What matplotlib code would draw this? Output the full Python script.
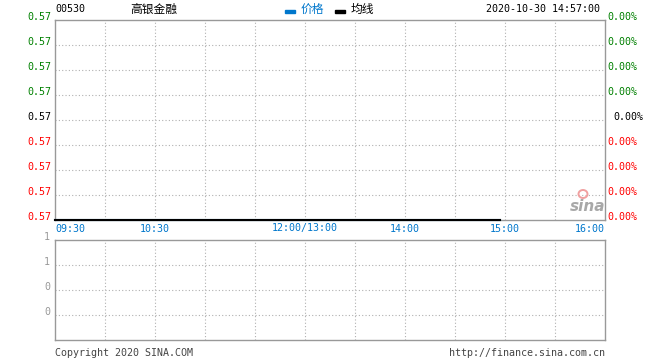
import matplotlib
matplotlib.use("Agg")
import matplotlib.pyplot as plt
from matplotlib.patches import Ellipse

# ---- data ----
code = "00530"
name = "高银金融"
timestamp = "2020-10-30 14:57:00"
legend_labels = ["价格", "均线"]
time_ticks = [0, 60, 150, 210, 270, 330]          # trading minutes from 09:30
time_labels = ["09:30", "10:30", "12:00/13:00", "14:00", "15:00", "16:00"]
price_minutes = [0, 267]
price_values = [0.57, 0.57]
avg_values = [0.57, 0.57]
price_labels = ["0.57"] * 9
pct_labels = ["0.00%"] * 9
vol_labels = ["1", "1", "0", "0"]

W, H = 660, 360
fig = plt.figure(figsize=(W / 100, H / 100), dpi=100)
fig.patch.set_facecolor("white")
MONO = "DejaVu Sans Mono"
FS = 7.2
GREEN, RED, BLUE, GRAY = "#008000", "#ff0000", "#0077cc", "#999999"
CJK = ["Noto Sans CJK SC", "DejaVu Sans"]

def px(x, y):
    return x / W, 1 - y / H

PXX = 330 / 550  # data units per pixel horizontally

# main panel
ax = fig.add_axes([55 / W, (H - 220) / H, 550 / W, 200 / H])
lo = price_values[0]
step = 0.001
ax.set_xlim(0, 330)
ax.set_ylim(lo, lo + 8 * step)
for s in ax.spines.values():
    s.set_color(GRAY)
    s.set_linewidth(1)
ax.set_xticks([]); ax.set_yticks([])
for x in range(30, 330, 30):
    ax.axvline(x, color="#b0b0b0", lw=0.8, ls=(0, (1, 2)))
for i in range(1, 8):
    ax.axhline(lo + i * step, color="#b0b0b0", lw=0.8, ls=(0, (1, 2)))
ax.plot(price_minutes, price_values, color=BLUE, lw=1.5, clip_on=False, zorder=3)
ax.plot(price_minutes, avg_values, color="black", lw=1.5, clip_on=False, zorder=4)

for i, (lab, plab) in enumerate(zip(price_labels, pct_labels)):
    yv = lo + (8 - i) * step
    col = GREEN if i < 4 else ("black" if i == 4 else RED)
    ax.text(-4 * PXX, yv, lab, color=col, fontsize=FS, family=MONO, ha="right",
            va="baseline", clip_on=False)
    xr = 330 + (2 if i != 4 else 8) * PXX
    ax.text(xr, yv, plab, color=col, fontsize=FS, family=MONO, ha="left", va="baseline",
            clip_on=False)

for t, lab in zip(time_ticks, time_labels):
    ha = "left" if t == 0 else ("right" if t == 330 else "center")
    ax.text(t, lo - 3.5 * step / 25, lab, color=BLUE, fontsize=FS, family=MONO,
            ha=ha, va="top", clip_on=False)

# sina watermark
fig.text(*px(588, 211), "sina", color="#a8a8a8", fontsize=11, fontweight="bold",
         style="italic", ha="center", va="baseline", family="DejaVu Sans")
fig.patches.append(Ellipse(px(583, 194), 9 / W, 8 / H, transform=fig.transFigure,
                           facecolor="none", edgecolor="#f0a0a0", lw=1.4))

# volume panel
av = fig.add_axes([55 / W, (H - 340) / H, 550 / W, 100 / H])
av.set_xlim(0, 330)
av.set_ylim(0, 4)
for s in av.spines.values():
    s.set_color(GRAY)
    s.set_linewidth(1)
av.set_xticks([]); av.set_yticks([])
for x in range(30, 330, 30):
    av.axvline(x, color="#b0b0b0", lw=0.8, ls=(0, (1, 2)))
for i in range(1, 4):
    av.axhline(i, color="#b0b0b0", lw=0.8, ls=(0, (1, 2)))
for i, lab in enumerate(vol_labels):
    av.text(-5 * PXX, 4 - i, lab, color=GRAY, fontsize=FS, family=MONO, ha="right",
            va="baseline", clip_on=False)

# header
fig.text(*px(55, 12.5), code, fontsize=FS, family=MONO, color="black", va="baseline")
fig.text(*px(153.5, 9), name, fontsize=8.5, family=CJK, color="black", ha="center", va="center")
fig.patches.append(plt.Rectangle(px(285, 12.5), 10 / W, 3 / H, transform=fig.transFigure,
                                 color=BLUE))
fig.text(*px(301, 9), legend_labels[0], fontsize=8.5, family=CJK, color=BLUE, va="center")
fig.patches.append(plt.Rectangle(px(335, 12.5), 10 / W, 3 / H, transform=fig.transFigure,
                                 color="black"))
fig.text(*px(351, 9), legend_labels[1], fontsize=8.5, family=CJK, color="black", va="center")
fig.text(*px(600, 12.5), timestamp, fontsize=FS, family=MONO, color="black",
         ha="right", va="baseline")

# footer
fig.text(*px(55, 356), "Copyright 2020 SINA.COM", fontsize=FS, family=MONO,
         color="#444444", va="baseline")
fig.text(*px(605, 356), "http://finance.sina.com.cn", fontsize=FS, family=MONO,
         color="#444444", ha="right", va="baseline")

fig.savefig("out.png", dpi=100, facecolor="white")
